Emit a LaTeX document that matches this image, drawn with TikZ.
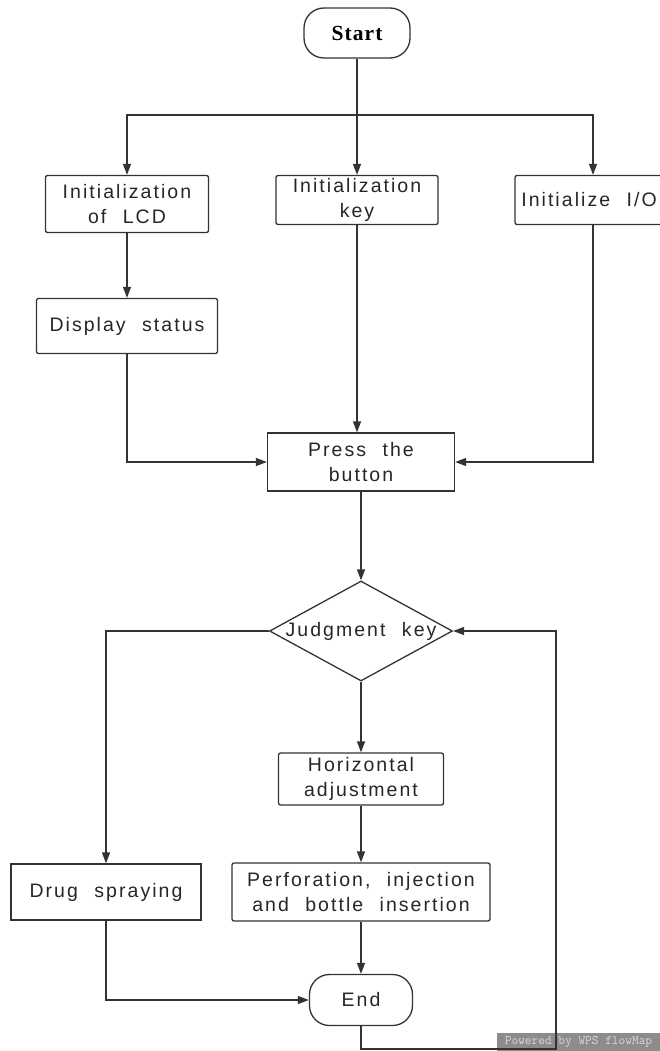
\documentclass[tikz,border=0pt]{standalone}
\usepackage{fontspec}
\setsansfont{Liberation Sans}[LetterSpace=10.5,WordSpace=2.2]
\newfontfamily\startfont{Liberation Serif}[LetterSpace=5]
\usetikzlibrary{arrows.meta,shapes.geometric,positioning}
\tikzset{
    line/.style={draw=black!80, line width=1.3pt},
    arr/.style={line, -{Triangle[length=11pt,width=8pt]}},
    box/.style={draw=black!80, line width=1.3pt, rounded corners=2pt, inner sep=0pt,
        align=center, text=black!85, font=\sffamily\fontsize{19.5}{25}\selectfont},
    sqbox/.style={box, rounded corners=0pt},
    term/.style={box, rounded corners=20pt},
    decision/.style={box, diamond, rounded corners=0pt},
    wmark/.style={fill=black!45, text=white!85!black, inner sep=0pt,
        font=\ttfamily\fontsize{13}{13}\selectfont}
}
\begin{document}
\begin{tikzpicture}[x=1pt,y=-1pt]
    \useasboundingbox (0,0) rectangle (660,1051);
    \clip (0,0) rectangle (660,1051);
    % watermark
    \node[wmark, minimum width=163, minimum height=18] (wps) at (578.5,1042) {Powered by WPS flowMap};
    % top row
    \node[term, text=black, font=\startfont\bfseries\fontsize{21.5}{24}\selectfont, minimum width=106, minimum height=50] (start) at (357,33) {Start};
    \coordinate (fork) at (357,115);
    \node[box, minimum width=163, minimum height=57] (lcd) at (127,204) {Initialization\\of LCD};
    \node[box, minimum width=162, minimum height=49] (key) at (357,200) {Initialization\\key};
    \node[box, minimum width=156, minimum height=49] (io) at (593,200) {Initialize I/O\hspace*{8pt}};
    \node[box, minimum width=181, minimum height=55] (disp) at (127,326) {Display status};
    \node[sqbox, minimum width=187, minimum height=58] (press) at (361,462) {Press the\\button};
    % decision and branches
    \node[decision, minimum width=183, minimum height=100] (judge) at (361,631) {\makebox[0pt]{Judgment key}};
    \node[box, minimum width=165, minimum height=52] (horiz) at (361,779) {Horizontal\\adjustment};
    \node[sqbox, minimum width=190, minimum height=56] (drug) at (106,892) {Drug spraying};
    \node[box, minimum width=258, minimum height=58] (perf) at (361,892) {Perforation, injection\\and bottle insertion};
    \node[term, minimum width=103, minimum height=51] (end) at (361,1000) {End};
    \coordinate (back) at (556,1049);

    \draw[line] (start.south) -- (fork);
    \draw[arr] (fork) -| (lcd.north);
    \draw[arr] (fork) -| (io.north);
    \draw[arr] (fork) -- (key.north);
    \draw[arr] (lcd.south) -- (disp.north);
    \draw[arr] (disp.south) |- (press.west);
    \draw[arr] (key.south) -- (key.south |- press.north);
    \draw[arr] (io.south) |- (press.east);
    \draw[arr] (press.south) -- (judge.north);
    \draw[arr] (judge.west) -| (drug.north);
    \draw[arr] (judge.south) -- (horiz.north);
    \draw[arr] (horiz.south) -- (perf.north);
    \draw[arr] (perf.south) -- (end.north);
    \draw[arr] (drug.south) |- (end.west);
    \draw[arr] (end.south) |- (back) |- (judge.east);
\end{tikzpicture}
\end{document}
